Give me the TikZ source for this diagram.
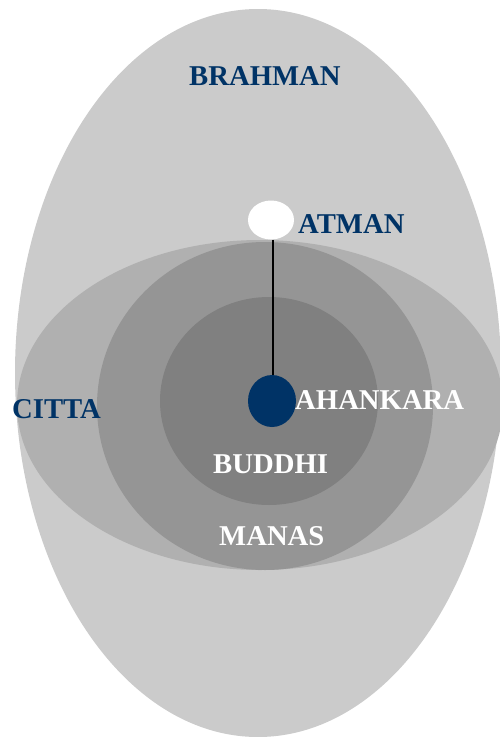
\documentclass[tikz,border=0pt]{standalone}
\usepackage{fontspec}
\setmainfont{Liberation Serif}
\usetikzlibrary{shapes.geometric}
\definecolor{brahmanc}{HTML}{CBCBCB}
\definecolor{cittac}{HTML}{B0B0B0}
\definecolor{manasc}{HTML}{959595}
\definecolor{buddhic}{HTML}{808080}
\definecolor{navy}{HTML}{003366}
\tikzset{
  blob/.style={ellipse, draw=none, inner sep=0pt},
  lbl/.style={font=\fontsize{28.7}{30}\selectfont\bfseries, inner sep=0pt, anchor=base west},
  dark/.style={lbl, text=navy},
  light/.style={lbl, text=white}
}
\begin{document}
\begin{tikzpicture}[x=1pt,y=-1pt]
\useasboundingbox (0,0) rectangle (500,737);
\node[blob, fill=brahmanc, minimum width=486pt, minimum height=728pt] (brahman) at (258,373) {};
\node[blob, fill=cittac, minimum width=486pt, minimum height=330pt] (citta) at (260,405) {};
\node[blob, fill=manasc, minimum width=336pt, minimum height=328pt] (manas) at (265,406) {};
\node[blob, fill=buddhic, minimum width=218pt, minimum height=208pt] (buddhi) at (269,401) {};
\node[blob, fill=navy, minimum width=48pt, minimum height=52pt] (ahankara) at (272,401) {};
\node[blob, fill=white, minimum width=46pt, minimum height=39pt] (atman) at (271,220) {};
\draw[line width=1.6pt, black] (atman.south -| 273,0) -- (ahankara.north -| 273,0);
\node[dark] (tbrahman) at (189,85) {BRAHMAN};
\node[dark] (tatman) at (298,233) {ATMAN};
\node[dark] (tcitta) at (12,418) {CITTA};
\node[light] (tahankara) at (295,409) {AHANKARA};
\node[light] (tbuddhi) at (213,473) {BUDDHI};
\node[light] (tmanas) at (219,545) {MANAS};
\end{tikzpicture}
\end{document}
